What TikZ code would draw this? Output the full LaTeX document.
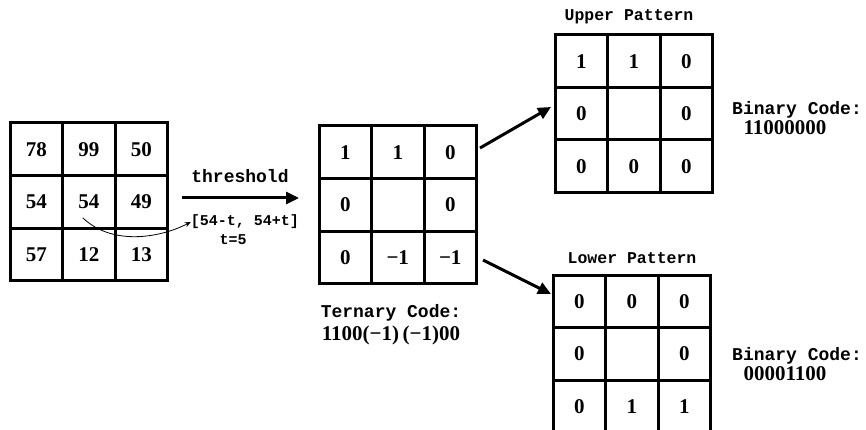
\documentclass[tikz,border=0pt]{standalone}
\usepackage{fontspec}
\setmainfont{Liberation Serif}
\newfontfamily\codeFont{Liberation Mono}
\usetikzlibrary{arrows.meta}
\tikzstyle{canvas} = [x = 1pt, y = -1pt]
\tikzstyle{cellStyle} = [draw, line width = 3pt, minimum size = 52.5pt, inner sep = 0pt, outer sep = 0pt, font = \bfseries\fontsize{21}{23}\selectfont]
\tikzstyle{flowArrow} = [line width = 3pt, -{Triangle[length = 13pt, width = 12pt]}]
\tikzstyle{thinArrow} = [line width = 0.8pt, -{Stealth[length = 6pt, width = 5pt]}]
\tikzstyle{codeText} = [font = \codeFont\bfseries\fontsize{18}{20}\selectfont, inner sep = 0pt]
\tikzstyle{numText} = [font = \bfseries\fontsize{21}{23}\selectfont, inner sep = 0pt]
\newcommand{\cell}{52.5}
% 3x3 patch of cells, named #1-0 ... #1-8 row by row
\newcommand{\cellGrid}[4]{
  \foreach \entry [count = \k from 0] in {#4} {
    \pgfmathtruncatemacro{\row}{int(\k / 3)}
    \pgfmathtruncatemacro{\col}{mod(\k, 3)}
    \node [cellStyle, anchor = north west] (#1-\k) at (#2 + \cell * \col, #3 + \cell * \row) {\entry};
  }
}

\begin{document}
\begin{tikzpicture}[canvas]
  \useasboundingbox (0,0) rectangle (866,430);

  % the patches
  \cellGrid{src}{10}{123}{78,99,50,54,54,49,57,12,13}
  \cellGrid{tern}{319}{126}{1,1,0,0,{},0,0,−1,−1}
  \cellGrid{upper}{555}{35}{1,1,0,0,{},0,0,0,0}
  \cellGrid{lower}{553}{275}{0,0,0,0,{},0,0,1,1}

  % thresholding step
  \coordinate (thrStart) at (182,198);
  \coordinate (thrEnd) at (299,198);
  \draw [flowArrow] (thrStart) -- (thrEnd);
  \node [codeText] (thr) at (240,176) {threshold};
  \node [codeText, font = \codeFont\bfseries\fontsize{15}{17}\selectfont] (range) at (245,222) {[54-t, 54+t]};
  \node [codeText, font = \codeFont\bfseries\fontsize{15}{17}\selectfont] (tval) at (233,240) {t=5};
  \draw [thinArrow] ([shift = {(-6,16)}]src-4.center) .. controls (112,246) and (160,238) .. (range.west);

  % ternary code
  \node [codeText] (ternLabel) at (391,313) {Ternary Code:};
  \node [numText] (ternCode) at (391,335) {1100(−1)\,(−1)00};

  % split into upper and lower patterns
  \coordinate (upStart) at (480,148);
  \coordinate (upEnd) at (551,107);
  \coordinate (lowStart) at (483,260);
  \coordinate (lowEnd) at (551,294);
  \draw [flowArrow] (upStart) -- (upEnd);
  \draw [flowArrow] (lowStart) -- (lowEnd);

  \node [codeText, font = \codeFont\bfseries\fontsize{16.5}{18}\selectfont] (upTitle) at (629,17) {Upper Pattern};
  \node [codeText] (upBin) at (797,110) {Binary Code:};
  \node [numText] (upCode) at (785,128) {11000000};

  \node [codeText, font = \codeFont\bfseries\fontsize{16.5}{18}\selectfont] (lowTitle) at (632,258) {Lower Pattern};
  \node [codeText] (lowBin) at (797,356) {Binary Code:};
  \node [numText] (lowCode) at (785,374) {00001100};
\end{tikzpicture}
\end{document}
